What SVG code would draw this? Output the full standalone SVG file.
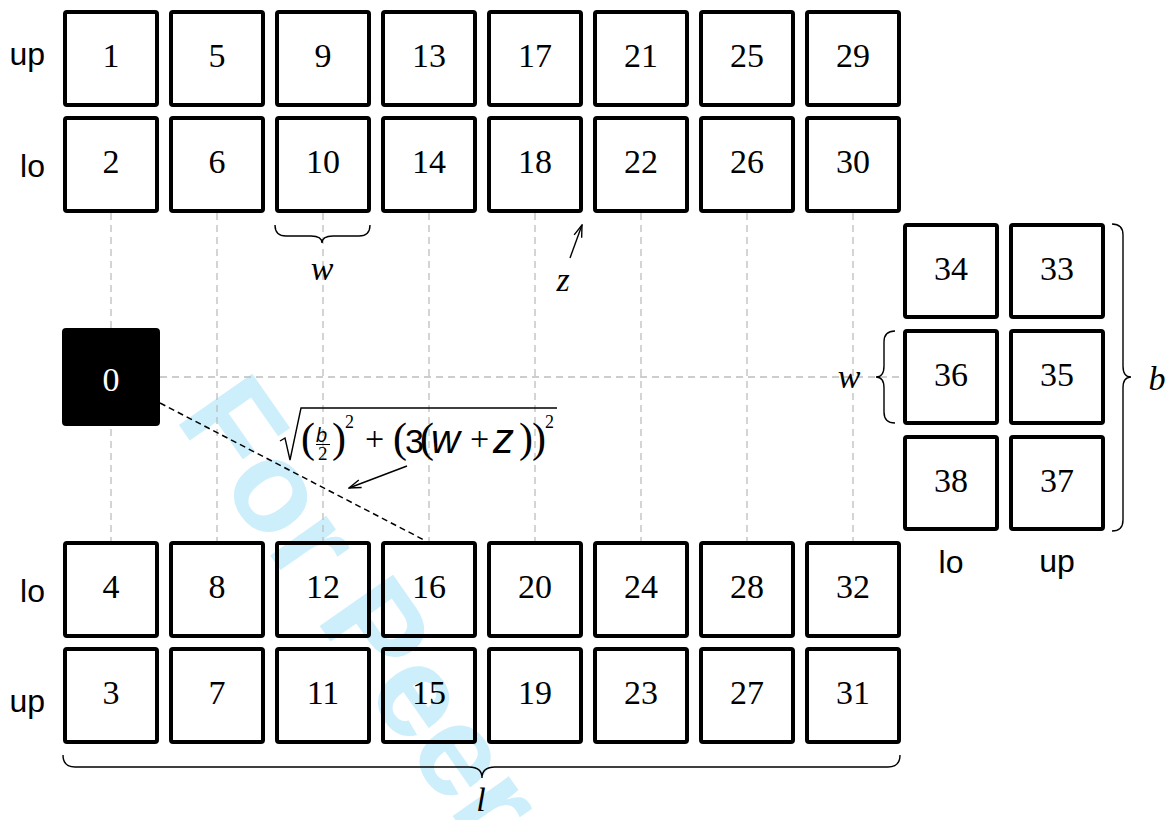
<svg xmlns="http://www.w3.org/2000/svg" width="1176" height="820" viewBox="0 0 1176 820">
<style>
.box{fill:none;stroke:#000;stroke-width:4;stroke-linejoin:round}
.num{font-family:"Liberation Serif","Times New Roman",serif;font-size:34px;text-anchor:middle;fill:#000}
.lbl{font-family:"Liberation Sans",Arial,sans-serif;font-size:32px;fill:#000}
.var{font-family:"Liberation Serif","Times New Roman",serif;font-style:italic;font-size:34px;fill:#000}
.grid{stroke:#bdbdbd;stroke-width:1.3;stroke-dasharray:7 5;fill:none}
.brace{fill:none;stroke:#000;stroke-width:1.4}
.ser{font-family:"Liberation Serif","Times New Roman",serif;fill:#000}
.san{font-family:"Liberation Sans",Arial,sans-serif;fill:#000}
</style>
<defs>
<marker id="open" viewBox="0 0 14 10" refX="13" refY="5" markerWidth="14" markerHeight="10" markerUnits="userSpaceOnUse" orient="auto">
<path d="M1,1 L13,5 L1,9" fill="none" stroke="#000" stroke-width="1.4"/>
</marker>
</defs>
<rect width="1176" height="820" fill="#fff"/>
<text id="watermark" transform="translate(174,418) rotate(55)" font-family="Liberation Sans,Arial,sans-serif" font-weight="bold" font-size="130" fill="#cdeefb">For Peer</text>

<g id="connectors">
<g class="grid">
<path d="M111,213V541M217,213V541M323,213V541M429,213V541M535,213V541M641,213V541M747,213V541M853,213V541"/>
<path d="M160,377H903"/>
</g>
<path d="M160,403 L426,541" stroke="#000" stroke-width="1.5" stroke-dasharray="6 4" fill="none"/>
<line x1="407" y1="466" x2="349" y2="488" stroke="#000" stroke-width="1.4" marker-end="url(#open)"/>
<line x1="570" y1="258" x2="582" y2="225" stroke="#000" stroke-width="1.4" marker-end="url(#open)"/>
<path class="brace" d="M275,225 Q275,236 286,236 L311,236 Q322,236 322,243 Q322,236 333,236 L359,236 Q370,236 370,225"/>
<path class="brace" d="M63,755 Q63,767 75,767 L469,767 Q482,767 482,778 Q482,767 495,767 L888,767 Q900,767 900,755"/>
<path class="brace" d="M1112,224 Q1123,224 1123,235 L1123,366 Q1123,377 1131,377 Q1123,377 1123,388 L1123,520 Q1123,531 1112,531"/>
<path class="brace" d="M895,331 Q884,331 884,342 L884,366 Q884,377 876,377 Q884,377 884,388 L884,412 Q884,423 895,423"/>
</g>

<g id="labels">
<text class="lbl" x="45" y="65" text-anchor="end">up</text>
<text class="lbl" x="45" y="177" text-anchor="end">lo</text>
<text class="lbl" x="45" y="602" text-anchor="end">lo</text>
<text class="lbl" x="45" y="712" text-anchor="end">up</text>
<text class="lbl" x="951" y="573" text-anchor="middle">lo</text>
<text class="lbl" x="1057" y="572" text-anchor="middle">up</text>
<text class="var" x="322" y="280" text-anchor="middle">w</text>
<text class="var" x="563" y="291" text-anchor="middle">z</text>
<text class="var" x="849" y="388" text-anchor="middle">w</text>
<text class="var" x="1157" y="390" text-anchor="middle">b</text>
<text class="var" x="481" y="811" text-anchor="middle">l</text>
</g>

<g id="formula">
<path d="M280,441 L285,438 L290,460 L301,408 H557" fill="none" stroke="#000" stroke-width="1.4"/>
<line x1="316" y1="444.5" x2="330" y2="444.5" stroke="#000" stroke-width="1"/>
<text class="ser" font-size="42"><tspan x="301" y="452">(</tspan><tspan class="san" font-style="italic" font-size="20" x="316" y="442">b</tspan><tspan font-size="19" x="318" y="460">2</tspan><tspan x="332" y="452">)</tspan><tspan font-size="18" x="345" y="428">2</tspan><tspan font-size="34" x="365" y="450">+</tspan><tspan x="393" y="452">(</tspan><tspan class="san" font-size="34" x="405" y="453">3</tspan><tspan x="420" y="452">(</tspan><tspan class="san" font-style="italic" font-size="40" x="431" y="453">w</tspan><tspan font-size="34" x="470" y="450">+</tspan><tspan class="san" font-style="italic" font-size="42" x="493" y="453">z</tspan><tspan x="519" y="452">)</tspan><tspan x="532" y="452">)</tspan><tspan font-size="18" x="545" y="428">2</tspan></text>
</g>

<g id="n0"><rect x="64" y="330" width="94" height="94" rx="2" fill="#000" stroke="#000" stroke-width="4"/><text class="num" x="111" y="391" style="fill:#fff">0</text></g>

<g id="n1"><rect class="box" x="65" y="12" width="92" height="93" rx="2"/><text class="num" x="111" y="67">1</text></g>
<g id="n5"><rect class="box" x="171" y="12" width="92" height="93" rx="2"/><text class="num" x="217" y="67">5</text></g>
<g id="n9"><rect class="box" x="277" y="12" width="92" height="93" rx="2"/><text class="num" x="323" y="67">9</text></g>
<g id="n13"><rect class="box" x="383" y="12" width="92" height="93" rx="2"/><text class="num" x="429" y="67">13</text></g>
<g id="n17"><rect class="box" x="489" y="12" width="92" height="93" rx="2"/><text class="num" x="535" y="67">17</text></g>
<g id="n21"><rect class="box" x="595" y="12" width="92" height="93" rx="2"/><text class="num" x="641" y="67">21</text></g>
<g id="n25"><rect class="box" x="701" y="12" width="92" height="93" rx="2"/><text class="num" x="747" y="67">25</text></g>
<g id="n29"><rect class="box" x="807" y="12" width="92" height="93" rx="2"/><text class="num" x="853" y="67">29</text></g>

<g id="n2"><rect class="box" x="65" y="118" width="92" height="93" rx="2"/><text class="num" x="111" y="173">2</text></g>
<g id="n6"><rect class="box" x="171" y="118" width="92" height="93" rx="2"/><text class="num" x="217" y="173">6</text></g>
<g id="n10"><rect class="box" x="277" y="118" width="92" height="93" rx="2"/><text class="num" x="323" y="173">10</text></g>
<g id="n14"><rect class="box" x="383" y="118" width="92" height="93" rx="2"/><text class="num" x="429" y="173">14</text></g>
<g id="n18"><rect class="box" x="489" y="118" width="92" height="93" rx="2"/><text class="num" x="535" y="173">18</text></g>
<g id="n22"><rect class="box" x="595" y="118" width="92" height="93" rx="2"/><text class="num" x="641" y="173">22</text></g>
<g id="n26"><rect class="box" x="701" y="118" width="92" height="93" rx="2"/><text class="num" x="747" y="173">26</text></g>
<g id="n30"><rect class="box" x="807" y="118" width="92" height="93" rx="2"/><text class="num" x="853" y="173">30</text></g>

<g id="n4"><rect class="box" x="65" y="543" width="92" height="93" rx="2"/><text class="num" x="111" y="598">4</text></g>
<g id="n8"><rect class="box" x="171" y="543" width="92" height="93" rx="2"/><text class="num" x="217" y="598">8</text></g>
<g id="n12"><rect class="box" x="277" y="543" width="92" height="93" rx="2"/><text class="num" x="323" y="598">12</text></g>
<g id="n16"><rect class="box" x="383" y="543" width="92" height="93" rx="2"/><text class="num" x="429" y="598">16</text></g>
<g id="n20"><rect class="box" x="489" y="543" width="92" height="93" rx="2"/><text class="num" x="535" y="598">20</text></g>
<g id="n24"><rect class="box" x="595" y="543" width="92" height="93" rx="2"/><text class="num" x="641" y="598">24</text></g>
<g id="n28"><rect class="box" x="701" y="543" width="92" height="93" rx="2"/><text class="num" x="747" y="598">28</text></g>
<g id="n32"><rect class="box" x="807" y="543" width="92" height="93" rx="2"/><text class="num" x="853" y="598">32</text></g>

<g id="n3"><rect class="box" x="65" y="649" width="92" height="93" rx="2"/><text class="num" x="111" y="704">3</text></g>
<g id="n7"><rect class="box" x="171" y="649" width="92" height="93" rx="2"/><text class="num" x="217" y="704">7</text></g>
<g id="n11"><rect class="box" x="277" y="649" width="92" height="93" rx="2"/><text class="num" x="323" y="704">11</text></g>
<g id="n15"><rect class="box" x="383" y="649" width="92" height="93" rx="2"/><text class="num" x="429" y="704">15</text></g>
<g id="n19"><rect class="box" x="489" y="649" width="92" height="93" rx="2"/><text class="num" x="535" y="704">19</text></g>
<g id="n23"><rect class="box" x="595" y="649" width="92" height="93" rx="2"/><text class="num" x="641" y="704">23</text></g>
<g id="n27"><rect class="box" x="701" y="649" width="92" height="93" rx="2"/><text class="num" x="747" y="704">27</text></g>
<g id="n31"><rect class="box" x="807" y="649" width="92" height="93" rx="2"/><text class="num" x="853" y="704">31</text></g>

<g id="n34"><rect class="box" x="905" y="225" width="92" height="92" rx="2"/><text class="num" x="951" y="280">34</text></g>
<g id="n33"><rect class="box" x="1011" y="225" width="92" height="92" rx="2"/><text class="num" x="1057" y="280">33</text></g>
<g id="n36"><rect class="box" x="905" y="331" width="92" height="92" rx="2"/><text class="num" x="951" y="386">36</text></g>
<g id="n35"><rect class="box" x="1011" y="331" width="92" height="92" rx="2"/><text class="num" x="1057" y="386">35</text></g>
<g id="n38"><rect class="box" x="905" y="437" width="92" height="92" rx="2"/><text class="num" x="951" y="492">38</text></g>
<g id="n37"><rect class="box" x="1011" y="437" width="92" height="92" rx="2"/><text class="num" x="1057" y="492">37</text></g>
</svg>
